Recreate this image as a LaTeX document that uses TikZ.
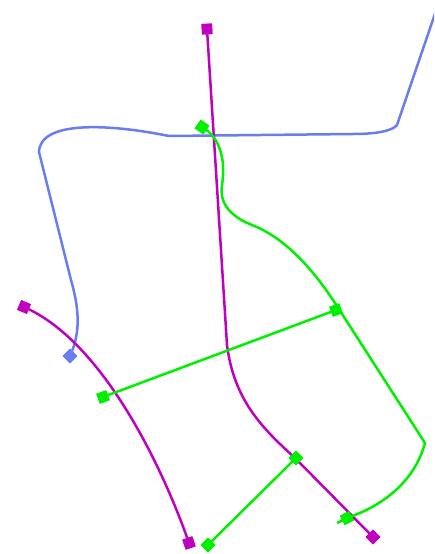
\documentclass[tikz,border=0pt]{standalone}
\definecolor{mag}{RGB}{192,0,192}
\definecolor{grn}{RGB}{0,240,0}
\definecolor{blu}{RGB}{105,125,240}
\tikzset{
  wire/.style={line width=2.5pt},
  sq/.style={rectangle, minimum size=10.5pt, inner sep=0pt, fill=#1, draw=none},
}
\begin{document}
\begin{tikzpicture}[x=1pt,y=-1pt]
\useasboundingbox (0,0) rectangle (434,554);
% named points
\coordinate (bS) at (439,2);
\coordinate (b1) at (397,125);
\coordinate (b2) at (353,134);
\coordinate (b3) at (169,136);
\coordinate (b4) at (39,152);
\coordinate (b5) at (71,280);
\coordinate (m1) at (227,345);
\coordinate (m2) at (295,458);
\coordinate (g1) at (222,185);
\coordinate (g2) at (257,227);
\coordinate (g3) at (335,303);
\coordinate (g4) at (425,443);
\coordinate (gE) at (337,523);
% markers (placed first as named nodes)
\path
  (207,29)  node[sq=mag, rotate=3] (mA) {}
  (373,537) node[sq=mag, rotate=45] (mB) {}
  (24,307)  node[sq=mag, rotate=-23] (mC) {}
  (189,543) node[sq=mag, rotate=19] (mD) {}
  (70,356)  node[sq=blu, rotate=45] (bE) {}
  (202,127) node[sq=grn, rotate=-35] (gA) {}
  (336,310) node[sq=grn, rotate=20] (gB) {}
  (103,397) node[sq=grn, rotate=20] (gC) {}
  (296,458) node[sq=grn, rotate=45] (gD) {}
  (208,545) node[sq=grn, rotate=45] (gF) {}
  (347,518) node[sq=grn, rotate=27] (gG) {};
\begin{scope}
\clip (0,0) rectangle (434,554);
% blue
\draw[wire, blu] (bS) -- (b1) .. controls (393,130) and (380,134) .. (b2) -- (b3)
  .. controls (110,124) and (40,120) .. (b4) -- (b5)
  .. controls (78,305) and (82,330) .. (bE.center);
\end{scope}
% magenta
\draw[wire, mag] (mA.center) -- (m1) .. controls (234,400) and (262,428) .. (m2) -- (mB.center);
\draw[wire, mag] (mC.center) .. controls (100,340) and (160,460) .. (mD.center);
% green
\draw[wire, grn] (gA.center) .. controls (220,137) and (226,160) .. (g1)
  .. controls (219,205) and (232,218) .. (g2)
  .. controls (285,240) and (310,265) .. (g3) -- (g4)
  .. controls (415,480) and (385,505) .. (gG.center) -- (gE);
\draw[wire, grn] (gB.center) -- (gC.center);
\draw[wire, grn] (gD.center) -- (gF.center);
% redraw markers on top
\path
  (207,29)  node[sq=mag, rotate=3] {}
  (373,537) node[sq=mag, rotate=45] {}
  (24,307)  node[sq=mag, rotate=-23] {}
  (189,543) node[sq=mag, rotate=19] {}
  (70,356)  node[sq=blu, rotate=45] {}
  (202,127) node[sq=grn, rotate=-35] {}
  (336,310) node[sq=grn, rotate=20] {}
  (103,397) node[sq=grn, rotate=20] {}
  (296,458) node[sq=grn, rotate=45] {}
  (208,545) node[sq=grn, rotate=45] {}
  (347,518) node[sq=grn, rotate=27] {};
\end{tikzpicture}
\end{document}
